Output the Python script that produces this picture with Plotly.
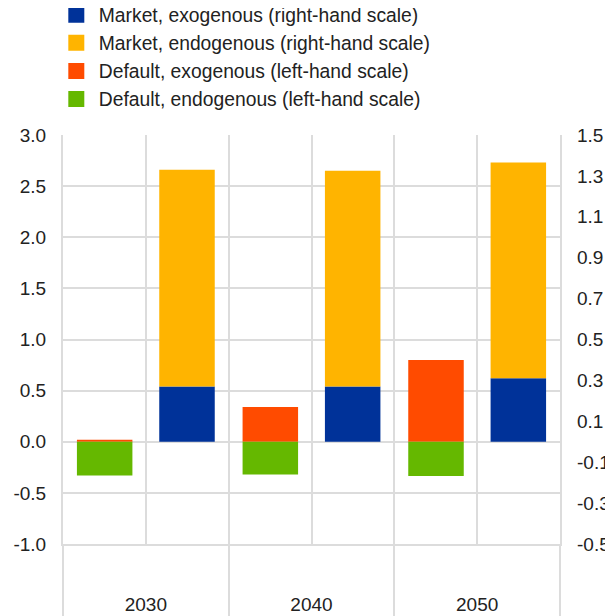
import plotly.graph_objects as go

years = ["2030", "2040", "2050"]
# right-hand scale (market)
market_exo = [0.27, 0.27, 0.31]
market_endo = [1.06, 1.055, 1.055]
# left-hand scale (default)
default_exo = [0.02, 0.34, 0.80]
default_endo = [-0.33, -0.32, -0.335]

names = ["Market, exogenous (right-hand scale)",
         "Market, endogenous (right-hand scale)",
         "Default, exogenous (left-hand scale)",
         "Default, endogenous (left-hand scale)"]
colors = ["#003299", "#ffb400", "#ff4b00", "#65b800"]

left_ticks = [3.0, 2.5, 2.0, 1.5, 1.0, 0.5, 0.0, -0.5, -1.0]
left_labels = ["3.0", "2.5", "2.0", "1.5", "1.0", "0.5", "0.0", "-0.5", "-1.0"]
right_ticks = [1.5, 1.3, 1.1, 0.9, 0.7, 0.5, 0.3, 0.1, -0.1, -0.3, -0.5]
right_labels = ["1.5", "1.3", "1.1", "0.9", "0.7", "0.5", "0.3", "0.1", "-0.1", "-0.3", "-0.5"]

FONT = "Liberation Sans, Arial, sans-serif"
GRID = "#dcdcdc"
BW = 0.335

fig = go.Figure()
# Default bars (left axis)
fig.add_trace(go.Bar(x=years, y=default_exo, name=names[2], marker_color=colors[2],
                     width=BW, offset=-0.416, xaxis="x", yaxis="y",
                     showlegend=False, legendgroup="g2", marker_line_width=0))
fig.add_trace(go.Bar(x=years, y=default_endo, name=names[3], marker_color=colors[3],
                     width=BW, offset=-0.416, xaxis="x", yaxis="y",
                     showlegend=False, legendgroup="g3", marker_line_width=0))
# Market bars (right axis)
fig.add_trace(go.Bar(x=years, y=market_exo, name=names[0], marker_color=colors[0],
                     width=BW, offset=0.081, xaxis="x2", yaxis="y2",
                     showlegend=False, legendgroup="g0", marker_line_width=0))
fig.add_trace(go.Bar(x=years, y=market_endo, name=names[1], marker_color=colors[1],
                     width=BW, offset=0.081, xaxis="x2", yaxis="y2",
                     showlegend=False, legendgroup="g1", marker_line_width=0))

# legend entries with larger square swatches
for i in range(4):
    fig.add_trace(go.Scatter(x=[None], y=[None], mode="markers", name=names[i],
                             marker=dict(symbol="square", size=16, color=colors[i]),
                             legendgroup="g%d" % i, showlegend=True,
                             xaxis="x", yaxis="y"))

fig.update_layout(
    width=605, height=608,
    margin=dict(l=55, r=53, t=126.5, b=72, autoexpand=False),
    paper_bgcolor="white", plot_bgcolor="white",
    barmode="relative",
    font=dict(family=FONT, size=19, color="#222222"),
    showlegend=True,
    legend=dict(x=-0.0185, y=1.3407, xanchor="left", yanchor="top",
                traceorder="normal", font=dict(size=19.3), itemwidth=35,
                bgcolor="rgba(0,0,0,0)", itemclick=False),
    xaxis=dict(type="category", categoryorder="array", categoryarray=years,
               range=[-0.5, 2.5], tickson="boundaries", showgrid=True,
               gridcolor=GRID, gridwidth=2, ticks="outside", ticklen=72,
               tickcolor=GRID, tickwidth=2, showline=True, linecolor=GRID,
               linewidth=2, zeroline=False,
               ticklabelstandoff=42, fixedrange=True),
    xaxis2=dict(type="category", categoryorder="array", categoryarray=years,
                overlaying="x", matches="x", range=[-0.5, 2.5],
                showgrid=True, gridcolor=GRID, gridwidth=2, showticklabels=False,
                ticks="", showline=False, zeroline=False),
    yaxis=dict(range=[-1, 3], tickvals=left_ticks, ticktext=left_labels,
               showgrid=True, gridcolor=GRID, gridwidth=2,
               zeroline=True, zerolinecolor=GRID, zerolinewidth=2,
               showline=True, mirror=True, linecolor=GRID, linewidth=2,
               ticks="", ticklabelstandoff=11),
    yaxis2=dict(range=[-0.5, 1.5], tickvals=right_ticks, ticktext=right_labels,
                overlaying="y", side="right", anchor="x",
                showgrid=False, zeroline=False, showline=False, ticks="",
                ticklabelstandoff=16),
)

fig.write_html("out.html")
